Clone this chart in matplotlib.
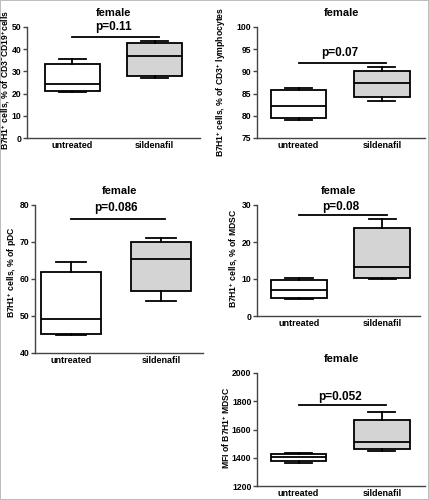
import matplotlib
matplotlib.use("Agg")
import matplotlib.pyplot as plt

W, H = 429, 500
groups = ["untreated", "sildenafil"]

# five-number summaries: min, q1, median, q3, max
cd19_untreated = [20.5, 21.0, 24.5, 33.5, 35.5]
cd19_sildenafil = [27.0, 28.0, 37.0, 43.0, 43.5]
cd3_untreated = [79.0, 79.5, 82.1, 85.7, 86.3]
cd3_sildenafil = [83.3, 84.2, 87.3, 90.1, 90.9]
pdc_untreated = [44.8, 45.0, 49.3, 61.8, 64.7]
pdc_sildenafil = [54.0, 56.7, 65.5, 70.0, 71.2]
mdsc_untreated = [4.7, 5.0, 7.0, 9.8, 10.4]
mdsc_sildenafil = [10.0, 10.2, 13.2, 23.8, 26.3]
mfi_untreated = [1365, 1375, 1405, 1425, 1432]
mfi_sildenafil = [1450, 1465, 1510, 1670, 1725]

p_labels = ["p=0.11", "p=0.07", "p=0.086", "p=0.08", "p=0.052"]
p_line_y = [45.5, 92.0, 76.3, 27.2, 1775]
y_labels = [r"B7H1$^{+}$ cells, % of CD3$^{-}$CD19$^{+}$cells",
            r"B7H1$^{+}$ cells, % of CD3$^{+}$ lymphocytes",
            r"B7H1$^{+}$ cells, % of pDC",
            r"B7H1$^{+}$ cells, % of MDSC",
            r"MFI of B7H1$^{+}$ MDSC"]

plt.rcParams["font.family"] = ["Liberation Sans", "DejaVu Sans"]
plt.rcParams["font.weight"] = "bold"
plt.rcParams["mathtext.default"] = "regular"

fig = plt.figure(figsize=(W / 100, H / 100), dpi=100, linewidth=1.2, edgecolor="#bdbdbd")


def add_axes(left, top, right, bottom):
    return fig.add_axes([left / W, 1 - bottom / H, (right - left) / W, (bottom - top) / H])


def box_panel(ax, unt, sil, ylim, yticks, ylabel, lab_xy, p_text, p_y, p_text_y, xlim):
    stats = []
    for name, s in zip(groups, [unt, sil]):
        stats.append(dict(label=name, whislo=s[0], q1=s[1], med=s[2], q3=s[3], whishi=s[4]))
    lw = 1.3
    b = ax.bxp(stats, positions=[1, 2], widths=0.67, patch_artist=True, showfliers=False,
               boxprops=dict(linewidth=lw, edgecolor="black"),
               medianprops=dict(color="black", linewidth=lw),
               whiskerprops=dict(color="black", linewidth=lw),
               capprops=dict(color="black", linewidth=lw),
               capwidths=0.33)
    b["boxes"][0].set_facecolor("white")
    b["boxes"][1].set_facecolor("#d4d4d4")
    ax.set_ylim(*ylim)
    ax.set_xlim(*xlim)
    ax.set_yticks(yticks)
    for s in ["top", "right"]:
        ax.spines[s].set_visible(False)
    for s in ["left", "bottom"]:
        ax.spines[s].set_color("#444444")
        ax.spines[s].set_linewidth(1.0)
    ax.tick_params(axis="y", length=3, width=1, color="#444444", labelsize=6.2, pad=1)
    ax.tick_params(axis="x", length=0, labelsize=6.5, pad=2.5)
    fig.text(lab_xy[0] / W, 1 - lab_xy[1] / H, ylabel, rotation=90, ha="center", va="center",
             fontsize=6.2, fontweight="bold")
    ax.set_title("female", fontsize=8, fontweight="bold", pad=8)
    ax.plot([1.0, 2.05], [p_y, p_y], color="black", linewidth=1.3, clip_on=False)
    ax.text(1.5, p_text_y, p_text, ha="center", va="center", fontsize=8.5, fontweight="bold")


ax1 = add_axes(27, 27, 200, 138)
box_panel(ax1, cd19_untreated, cd19_sildenafil, (0, 50), range(0, 51, 10),
          y_labels[0], (6, 80), p_labels[0], p_line_y[0], 50.0, (0.45, 2.55))

ax2 = add_axes(257, 27, 425, 138)
box_panel(ax2, cd3_untreated, cd3_sildenafil, (75, 100), range(75, 101, 5),
          y_labels[1], (221, 82), p_labels[1], p_line_y[1], 94.1, (0.5, 2.52))

ax3 = add_axes(35, 205, 203, 353)
box_panel(ax3, pdc_untreated, pdc_sildenafil, (40, 80), range(40, 81, 10),
          y_labels[2], (12, 272), p_labels[2], p_line_y[2], 79.3, (0.6, 2.47))

ax4 = add_axes(257, 205, 420, 316)
box_panel(ax4, mdsc_untreated, mdsc_sildenafil, (0, 30), range(0, 31, 10),
          y_labels[3], (234, 258), p_labels[3], p_line_y[3], 29.5, (0.5, 2.45))

ax5 = add_axes(257, 373, 425, 486)
box_panel(ax5, mfi_untreated, mfi_sildenafil, (1200, 2000), range(1200, 2001, 200),
          y_labels[4], (226, 428), p_labels[4], p_line_y[4], 1830, (0.5, 2.52))

fig.savefig("out.png", dpi=100)
